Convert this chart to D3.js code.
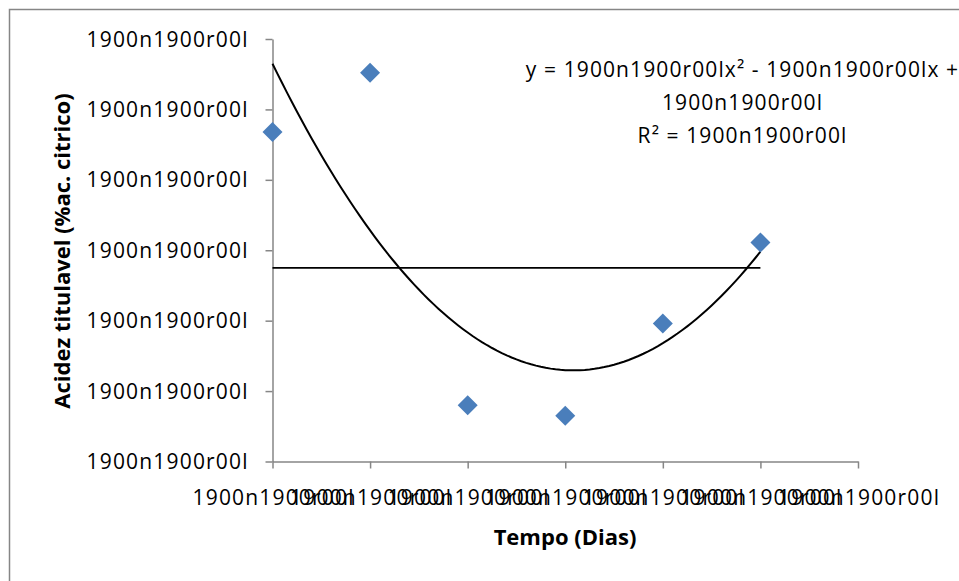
<!DOCTYPE html>
<html>
<head>
<meta charset="utf-8">
<script src="https://cdnjs.cloudflare.com/ajax/libs/d3/7.8.5/d3.min.js"></script>
<style>
  body { margin: 0; background: #fff; }
  text { font-family: "Open Sans", "Noto Sans", sans-serif; fill: #000; }
</style>
</head>
<body>
<div id="scatter"></div>
<script>
// data
var days = [0, 2, 4, 6, 8, 10];
var acidity = [0.868, 0.952, 0.480, 0.465, 0.596, 0.711];
var xTicks = [0, 2, 4, 6, 8, 10, 12];
var yTicks = [0.4, 0.5, 0.6, 0.7, 0.8, 0.9, 1.0];
var tickLabel = "1900n1900r00l";
var flatLine = [0.675];
var eqLines = ["y = 1900n1900r00lx\u00b2 - 1900n1900r00lx +", "1900n1900r00l", "R\u00b2 = 1900n1900r00l"];

var svgWidth = 959;
var svgHeight = 581;

var svg = d3.select("#scatter")
            .append("svg")
            .attr("height", svgHeight)
            .attr("width", svgWidth);

// chart border
svg.append("rect")
    .attr("x", 9.5)
    .attr("y", 9.5)
    .attr("width", 1000)
    .attr("height", 600)
    .attr("fill", "none")
    .attr("stroke", "#868686")
    .attr("stroke-width", 1.5);

var xScale = d3.scaleLinear()
                .domain([0, 12])
                .range([272.5, 858]);

var yScale = d3.scaleLinear()
                .domain([0.4, 1.0])
                .range([461.5, 39]);

var xAxis = d3.axisBottom(xScale).tickValues(xTicks).tickSize(7).tickSizeOuter(0).tickFormat(function(){ return tickLabel; });
var yAxis = d3.axisLeft(yScale).tickValues(yTicks).tickSize(7).tickSizeOuter(0).tickFormat(function(){ return tickLabel; });

var xg = svg.append("g")
            .attr("transform", "translate(0, 461.5)")
            .call(xAxis);
var yg = svg.append("g")
            .attr("transform", "translate(272.5, 0)")
            .call(yAxis);

[xg, yg].forEach(function(g){
    g.select(".domain").attr("stroke", "#868686").attr("stroke-width", 1.5);
    g.selectAll(".tick line").attr("stroke", "#868686").attr("stroke-width", 1.5);
    g.selectAll(".tick text")
        .attr("fill", "#000")
        .style("font-size", "21px")
        .style("font-family", "'Open Sans', sans-serif")
        .attr("textLength", 161)
        .attr("lengthAdjust", "spacing");
});
xg.selectAll(".tick text").attr("y", 0).attr("dy", 43);
yg.selectAll(".tick text").attr("x", -25).attr("dy", 7);

// least squares quadratic trendline
function quadFit(xs, ys) {
    var s = [0, 0, 0, 0, 0], t = [0, 0, 0];
    xs.forEach(function(x, i){
        for (var k = 0; k < 5; k++) s[k] += Math.pow(x, k);
        for (var j = 0; j < 3; j++) t[j] += ys[i] * Math.pow(x, j);
    });
    var m = [[s[0], s[1], s[2], t[0]], [s[1], s[2], s[3], t[1]], [s[2], s[3], s[4], t[2]]];
    for (var i = 0; i < 3; i++) {
        for (var r = i + 1; r < 3; r++) {
            var f = m[r][i] / m[i][i];
            for (var c = i; c < 4; c++) m[r][c] -= f * m[i][c];
        }
    }
    var b = [0, 0, 0];
    for (var i = 2; i >= 0; i--) {
        var v = m[i][3];
        for (var c = i + 1; c < 3; c++) v -= m[i][c] * b[c];
        b[i] = v / m[i][i];
    }
    return b;
}
var coef = quadFit(days, acidity);
var curveX = d3.range(0, 10.001, 0.1);

var line = d3.line()
    .x(function(d){ return xScale(d); })
    .y(function(d){ return yScale(coef[0] + coef[1] * d + coef[2] * d * d); });

svg.append("line")
    .attr("x1", xScale(days[0]))
    .attr("x2", xScale(days[days.length - 1]))
    .attr("y1", yScale(flatLine[0]))
    .attr("y2", yScale(flatLine[0]))
    .attr("stroke", "#000")
    .attr("stroke-width", 1.75);

svg.append("path")
    .datum(curveX)
    .attr("d", line)
    .attr("fill", "none")
    .attr("stroke", "#000")
    .attr("stroke-width", 2);

svg.selectAll(".pt")
    .data(days)
    .enter()
    .append("path")
    .attr("class", "pt")
    .attr("d", d3.symbol().type(d3.symbolSquare).size(200))
    .attr("transform", function(d, i){ return "translate(" + xScale(d) + "," + yScale(acidity[i]) + ") rotate(45)"; })
    .attr("fill", "#4a7ebb");

// trendline label
svg.selectAll(".eq")
    .data(eqLines)
    .enter()
    .append("text")
    .attr("class", "eq")
    .attr("x", 742.5)
    .attr("y", function(d, i){ return 77 + i * 33; })
    .attr("text-anchor", "middle")
    .style("font-size", "21px")
    .style("letter-spacing", "1.1px")
    .text(function(d){ return d; });

// axis titles
svg.append("text")
    .attr("x", 565)
    .attr("y", 545)
    .attr("text-anchor", "middle")
    .style("font-size", "22px")
    .style("font-weight", "bold")
    .text("Tempo (Dias)");

svg.append("text")
    .attr("transform", "translate(70, 251) rotate(-90)")
    .attr("text-anchor", "middle")
    .style("font-size", "22px")
    .style("font-weight", "bold")
    .text("Acidez titulavel (%ac. citrico)");
</script>
</body>
</html>
